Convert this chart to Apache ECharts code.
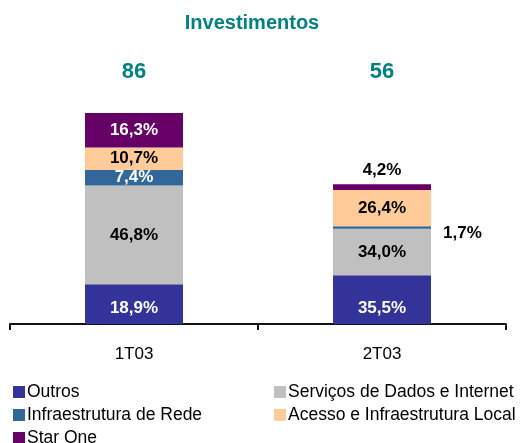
<!DOCTYPE html>
<html>
<head>
<meta charset="utf-8">
<script src="https://cdn.jsdelivr.net/npm/echarts@6/dist/echarts.min.js"></script>
<style>
    html, body { margin: 0; padding: 0; background: #fff; }
    #chart { width: 521px; height: 443px; }
</style>
</head>
<body>
<div id="chart"></div>
<script>
// dados
var categories = ['1T03', '2T03'];
var totals = [86, 56];
var seriesNames = ['Outros', 'Serviços de Dados e Internet', 'Infraestrutura de Rede', 'Acesso e Infraestrutura Local', 'Star One'];
var outros = [18.9, 35.5];
var servicos = [46.8, 34.0];
var infraRede = [7.4, 1.7];
var acesso = [10.7, 26.4];
var starOne = [16.3, 4.2];

var myColor = ['#333399', '#c0c0c0', '#336699', '#ffcc99', '#660066'];
var labelColor = ['#fff', '#000', '#fff', '#000', '#fff'];
var pcts = [outros, servicos, infraRede, acesso, starOne];

var font = 'Arial, "Liberation Sans", sans-serif';

function fmt(v) {
    return v.toFixed(1).replace('.', ',') + '%';
}

var series = [];
for (var s = 0; s < pcts.length; s++) {
    var data = [];
    for (var i = 0; i < categories.length; i++) {
        var pct = pcts[s][i];
        var item = {
            value: totals[i] * pct / 100,
            pct: pct
        };
        // fatias pequenas: rotulo fora da barra
        if (pct < 5) {
            item.label = {
                color: '#000',
                position: s == pcts.length - 1 ? 'top' : 'right',
                distance: s == pcts.length - 1 ? 6 : 12,
                offset: s == pcts.length - 1 ? [0, 0] : [0, 6]
            };
        }
        data.push(item);
    }
    series.push({
        name: seriesNames[s],
        type: 'bar',
        stack: 'total',
        barWidth: 98,
        data: data,
        itemStyle: { color: myColor[s] },
        label: {
            show: true,
            position: s == 0 ? 'insideBottom' : 'inside',
            distance: 7,
            color: labelColor[s],
            fontFamily: font,
            fontWeight: 'bold',
            fontSize: 17,
            formatter: function (p) {
                return fmt(p.data.pct);
            }
        },
        emphasis: { disabled: true }
    });
}

var legendText = {
    fontFamily: font,
    fontSize: 17.5,
    color: '#000',
    padding: [0, 0, 0, -3]
};

var chart = echarts.init(document.getElementById('chart'));
chart.setOption({
    backgroundColor: '#fff',
    animation: false,
    title: {
        text: 'Investimentos',
        left: 247,
        textAlign: 'center',
        top: 8,
        textStyle: {
            fontFamily: font,
            fontSize: 20,
            fontWeight: 'bold',
            color: '#008080'
        }
    },
    grid: {
        left: 10,
        right: 15,
        top: 79,
        bottom: 119,
        containLabel: false
    },
    legend: [{
        data: [seriesNames[0], seriesNames[2], seriesNames[4]],
        orient: 'vertical',
        left: 13,
        top: 383,
        height: 100,
        padding: 0,
        icon: 'rect',
        itemWidth: 12,
        itemHeight: 12,
        itemGap: 5,
        selectedMode: false,
        textStyle: legendText
    }, {
        data: [seriesNames[1], seriesNames[3]],
        orient: 'vertical',
        left: 274,
        top: 383,
        height: 100,
        padding: 0,
        icon: 'rect',
        itemWidth: 12,
        itemHeight: 12,
        itemGap: 5,
        selectedMode: false,
        textStyle: legendText
    }],
    xAxis: [{
        type: 'category',
        data: categories,
        position: 'bottom',
        axisLine: {
            show: true,
            lineStyle: { color: '#111', width: 2 }
        },
        axisTick: {
            show: true,
            length: 6,
            lineStyle: { color: '#111', width: 2 }
        },
        axisLabel: {
            margin: 22,
            fontFamily: font,
            fontSize: 17,
            color: '#000'
        }
    }, {
        type: 'category',
        data: totals.map(function (t) { return String(t); }),
        position: 'top',
        axisLine: { show: false },
        axisTick: { show: false },
        axisLabel: {
            margin: -4,
            fontFamily: font,
            fontSize: 22,
            fontWeight: 'bold',
            color: '#008080'
        }
    }],
    yAxis: {
        type: 'value',
        min: 0,
        max: 100,
        show: false,
        splitLine: { show: false }
    },
    series: series
});
</script>
</body>
</html>
